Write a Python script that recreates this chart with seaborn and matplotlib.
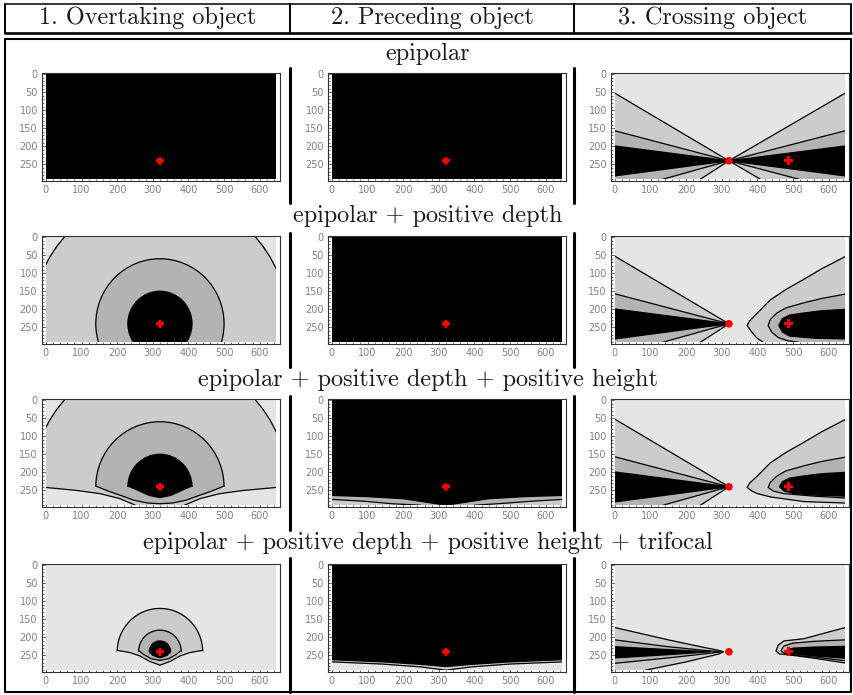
import matplotlib
matplotlib.use('Agg')
import matplotlib.pyplot as plt
from matplotlib.patches import Circle, Arc, Polygon, Rectangle
from matplotlib.ticker import MultipleLocator
import seaborn as sns

sns.set_style('white')
plt.rcParams['font.family'] = ['DejaVu Sans']

# ---- text ----
col_titles = ['1. Overtaking object', '2. Preceding object', '3. Crossing object']
row_titles = ['epipolar',
              'epipolar + positive depth',
              'epipolar + positive depth + positive height',
              'epipolar + positive depth + positive height + trifocal']

x_ticks = [0, 100, 200, 300, 400, 500, 600]
y_ticks = [0, 50, 100, 150, 200, 250]

# image size (pixels) and marked points
img_w, img_h = 646, 291
epipole = (320, 240)
target = (488, 240)

LIGHT, MID, DARK, BLACK = '#e5e5e5', '#cccccc', '#b3b3b3', '#000000'

# ---- column 1: rings around the epipole ----
ring_radii = [360, 180, 90]
small_ring_radii = [120, 60, 30]
ring_colors = [MID, DARK, BLACK]

# row 3: lower cut-offs of the rings
r3_core_low = [(230, 238), (250, 246), (265, 253), (290, 264), (320, 270), (350, 264), (375, 253), (390, 246), (410, 238)]
r3_dark_low = [(140, 238), (175, 252), (210, 264), (246, 277), (285, 285), (320, 287), (355, 285), (394, 277), (430, 264), (465, 252), (500, 238)]
r3_light_l = [(0, 242), (85, 250), (152, 259), (208, 273), (232, 283), (251, 291)]
r3_light_r = [(389, 291), (408, 283), (432, 273), (488, 259), (555, 250), (646, 242)]

# row 4: lower cut-offs of the small rings
r4_core_low = [(291, 240), (300, 250), (320, 257), (340, 250), (349, 240)]
r4_dark_low = [(261, 237), (275, 248), (295, 259), (320, 264), (345, 259), (365, 248), (379, 237)]
r4_mid_low = [(200, 236), (235, 242), (265, 252), (290, 266), (320, 277), (350, 266), (375, 252), (405, 242), (440, 236)]

# ---- column 2: bottom bands ----
p3_core_low = [(0, 264), (94, 267), (200, 273), (253, 281), (320, 291), (387, 281), (440, 273), (546, 267), (646, 264)]
p3_band_l = [(0, 275), (90, 280), (169, 287), (248, 291)]
p3_band_r = [(401, 291), (480, 286), (560, 280), (646, 275)]
p4_core_low = [(0, 262), (141, 268), (250, 275), (320, 281), (390, 275), (499, 268), (646, 262)]
p4_band_low = [(0, 268), (141, 274), (250, 282), (320, 291), (390, 282), (499, 274), (646, 268)]

# ---- column 3: fans through the epipole ----
fan_l_outer = [(0, 53), (320, 240), (240, 291)]
fan_l_mid = [(0, 157), (320, 240), (135, 291)]
fan_l_core = [(0, 199), (320, 240), (0, 282)]
fan_r_outer = [(646, 53), (320, 240), (408, 291)]
fan_r_mid = [(646, 157), (320, 240), (516, 291)]
fan_r_core = [(646, 199), (320, 240), (646, 282)]

# row 2 right side
c2_outer = [(646, 54), (580, 88), (530, 117), (480, 145), (436, 174), (399, 211), (378, 232), (371, 245), (385, 264), (399, 280), (416, 291)]
c2_mid = [(646, 158), (580, 170), (530, 182), (480, 196), (455, 210), (436, 228), (430, 245), (440, 263), (458, 278), (485, 287), (515, 291)]
c2_core = [(646, 200), (580, 204), (530, 210), (490, 216), (470, 226), (460, 244), (470, 263), (490, 274), (560, 280), (646, 282)]
# row 3 right side
c3_outer = [(646, 54), (580, 88), (530, 117), (480, 145), (436, 174), (399, 211), (378, 230), (371, 242), (385, 252), (400, 259), (436, 268), (530, 281), (646, 285)]
c3_mid = [(646, 158), (580, 170), (530, 182), (480, 196), (455, 210), (436, 228), (430, 242), (445, 252), (474, 259), (560, 266), (646, 271)]
c3_core = [(646, 200), (580, 204), (530, 210), (490, 216), (470, 226), (462, 240), (475, 252), (500, 258), (560, 263), (646, 266)]
# row 4
t_l_outer = [(0, 173), (150, 207), (250, 228), (292, 236), (305, 240), (292, 246), (200, 268), (86, 291)]
t_l_mid = [(0, 207), (150, 226), (250, 236), (298, 240), (250, 246), (150, 257), (0, 272)]
t_l_core = [(0, 226), (150, 234), (268, 240), (150, 248), (0, 257)]
t_r_outer = [(646, 173), (530, 204), (474, 210), (458, 222), (452, 238), (462, 246), (500, 250), (560, 258), (646, 271)]
t_r_mid = [(646, 207), (560, 211), (500, 216), (474, 224), (466, 237), (476, 245), (520, 251), (580, 257), (646, 265)]
t_r_core = [(646, 225), (560, 227), (500, 230), (484, 234), (481, 239), (495, 245), (540, 250), (646, 258)]

bottom_l = [(0, 291)]
bottom_r = [(646, 291)]
bottom_both = [(646, 291), (0, 291)]


def closed(curve, corners):
    return curve + corners


# layers painted in order: ('bg', c) | ('ring', c, r, upper_only) | ('poly', c, curve, corners)
def rings(radii, upper_only):
    return [('ring', c, r, upper_only) for c, r in zip(ring_colors, radii)]


def fan_left():
    return [('poly', MID, fan_l_outer, bottom_l),
            ('poly', DARK, fan_l_mid, bottom_l),
            ('poly', BLACK, fan_l_core, [])]


panels = [
    [[('bg', BLACK)], [('bg', BLACK)],
     [('bg', LIGHT)] + fan_left() + [('poly', MID, fan_r_outer, bottom_r),
                                     ('poly', DARK, fan_r_mid, bottom_r),
                                     ('poly', BLACK, fan_r_core, [])]],
    [[('bg', LIGHT)] + rings(ring_radii, False), [('bg', BLACK)],
     [('bg', LIGHT)] + fan_left() + [('poly', MID, c2_outer, bottom_r),
                                     ('poly', DARK, c2_mid, bottom_r),
                                     ('poly', BLACK, c2_core, [])]],
    [[('bg', LIGHT)] + rings(ring_radii, True) + [
        ('poly', DARK, r3_core_low, [(410, 291), (230, 291)]),
        ('poly', MID, r3_dark_low, [(500, 291), (140, 291)]),
        ('poly', LIGHT, r3_light_l, bottom_l),
        ('poly', LIGHT, r3_light_r, bottom_r)],
     [('bg', BLACK), ('poly', DARK, p3_core_low, bottom_both),
      ('poly', MID, p3_band_l, bottom_l), ('poly', MID, p3_band_r, bottom_r)],
     [('bg', LIGHT)] + fan_left() + [('poly', MID, c3_outer, []),
                                     ('poly', DARK, c3_mid, []),
                                     ('poly', BLACK, c3_core, [])]],
    [[('bg', LIGHT)] + rings(small_ring_radii, True) + [
        ('poly', DARK, r4_core_low, [(349, 291), (291, 291)]),
        ('poly', MID, r4_dark_low, [(379, 291), (261, 291)]),
        ('poly', LIGHT, r4_mid_low, [(440, 291), (200, 291)])],
     [('bg', BLACK), ('poly', MID, p4_core_low, bottom_both),
      ('poly', LIGHT, p4_band_low, bottom_both)],
     [('bg', LIGHT), ('poly', MID, t_l_outer, bottom_l), ('poly', DARK, t_l_mid, []),
      ('poly', BLACK, t_l_core, []), ('poly', MID, t_r_outer, []),
      ('poly', DARK, t_r_mid, []), ('poly', BLACK, t_r_core, [])]],
]

W, H = 854, 695
fig = plt.figure(figsize=(W / 100, H / 100), dpi=100)

# ---- table frame ----
frame = fig.add_axes([0, 0, 1, 1])
frame.set_xlim(0, W)
frame.set_ylim(H, 0)
frame.axis('off')
x_left, x_right = 5, 851
dividers = [290, 574]
frame.plot([x_left, x_right], [3.5, 3.5], color='black', lw=1.1)
frame.plot([x_left, x_right], [33, 33], color='black', lw=1.9)
for x in [x_left, x_right] + dividers:
    frame.plot([x, x], [3.5, 33], color='black', lw=1.4)
frame.plot([x_left, x_right, x_right, x_left, x_left], [39, 39, 692, 692, 39], color='black', lw=1.5)
row_spans = [(68, 203), (233, 367), (396, 530), (558, 692)]
for y0, y1 in row_spans:
    for x in dividers:
        frame.plot([x, x], [y0, y1], color='black', lw=2.2)

cell_centers = [147.5, 432, 712.5]
for cx, t in zip(cell_centers, col_titles):
    frame.text(cx, 24, t, family='cmr10', fontsize=17.5, ha='center', va='baseline', color='#1a1a1a')
title_baselines = [60, 222, 386, 549]
for yb, t in zip(title_baselines, row_titles):
    frame.text(428, yb, t, family='cmr10', fontsize=17.5, ha='center', va='baseline', color='#1a1a1a')

# ---- panels ----
ax_lefts = [42, 328, 611]
ax_tops = [73, 236, 399, 564]
ax_w, ax_h = 238, 108

for i, row in enumerate(panels):
    for j, layers in enumerate(row):
        ax = fig.add_axes([ax_lefts[j] / W, 1 - (ax_tops[i] + ax_h) / H, ax_w / W, ax_h / H])
        clip = Rectangle((0, 0), img_w, img_h, transform=ax.transData)
        for layer in layers:
            kind, color = layer[0], layer[1]
            if kind == 'bg':
                ax.add_patch(Rectangle((0, 0), img_w, img_h, facecolor=color, edgecolor='none', zorder=1))
            elif kind == 'ring':
                r, upper_only = layer[2], layer[3]
                disk = Circle(epipole, r, facecolor=color, edgecolor='none', zorder=1)
                ax.add_patch(disk)
                disk.set_clip_path(clip)
                if upper_only:
                    edge = Arc(epipole, 2 * r, 2 * r, theta1=180, theta2=360, color='black', lw=0.9, zorder=1)
                else:
                    edge = Circle(epipole, r, facecolor='none', edgecolor='black', lw=0.9, zorder=1)
                ax.add_patch(edge)
                edge.set_clip_path(clip)
            else:
                curve, corners = layer[2], layer[3]
                poly = Polygon(closed(curve, corners), closed=True, facecolor=color, edgecolor='none', zorder=1)
                ax.add_patch(poly)
                poly.set_clip_path(clip)
                ln, = ax.plot([p[0] for p in curve], [p[1] for p in curve], color='black', lw=0.9, zorder=1)
                ln.set_clip_path(clip)

        if j == 2:
            sns.scatterplot(x=[epipole[0]], y=[epipole[1]], marker='o', color='red', s=30,
                            edgecolor='none', ax=ax, zorder=5)
            sns.scatterplot(x=[target[0]], y=[target[1]], marker='P', color='red', s=42,
                            edgecolor='none', ax=ax, zorder=5)
        else:
            sns.scatterplot(x=[epipole[0]], y=[epipole[1]], marker='o', color='red', s=20,
                            edgecolor='none', ax=ax, zorder=5)
            sns.scatterplot(x=[epipole[0]], y=[epipole[1]], marker='P', color='red', s=34,
                            edgecolor='none', ax=ax, zorder=5)

        ax.set_xlim(-11, 657)
        ax.set_ylim(296, -3)
        ax.set_xticks(x_ticks)
        ax.set_yticks(y_ticks)
        ax.xaxis.set_minor_locator(MultipleLocator(20))
        ax.yaxis.set_minor_locator(MultipleLocator(10))
        ax.tick_params(which='both', direction='in', bottom=True, left=True, top=False, right=False,
                       color='#555555', labelcolor='#808080', labelsize=7, width=0.6, pad=3)
        ax.tick_params(which='major', length=3)
        ax.tick_params(which='minor', length=1.5)
        ax.set_xlabel('')
        ax.set_ylabel('')
        for s in ax.spines.values():
            s.set_color('#333333')
            s.set_linewidth(0.8)

fig.savefig('out.png', dpi=100)
